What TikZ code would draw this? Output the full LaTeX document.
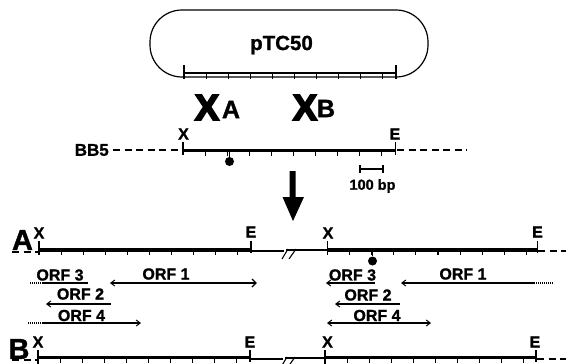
\documentclass[tikz,border=0pt]{standalone}
\usepackage{fontspec}
\setmainfont[BoldFeatures={FakeBold=1.2}]{Liberation Sans}
\newfontfamily\heavyfont[FakeBold=5]{Liberation Sans Bold}
\usetikzlibrary{arrows.meta}
\tikzset{
  thickline/.style={line width=3.5pt},
  plasmidline/.style={line width=2.4pt},
  thinline/.style={line width=1.1pt},
  dashline/.style={line width=1.3pt,dash pattern=on 7pt off 4.5pt},
  tick/.style={line width=1.1pt},
  orf/.style={line width=1.3pt},
  orfdot/.style={line width=1.3pt,dash pattern=on 1pt off 1pt},
  lab/.style={inner sep=0pt,font=\fontsize{16}{16}\selectfont\bfseries},
  sizelab/.style={inner sep=0pt,font=\fontsize{14.5}{14.5}\selectfont\bfseries},
  orflab/.style={inner sep=0pt,font=\fontsize{16}{16}\selectfont\bfseries},
  bigx/.style={inner sep=0pt,font=\fontsize{36}{36}\selectfont\heavyfont},
  biglab/.style={inner sep=0pt,font=\fontsize{25}{25}\selectfont\bfseries},
  rowlab/.style={inner sep=0pt,font=\fontsize{29}{29}\selectfont\bfseries},
  ball/.style={circle,fill=black,minimum size=9pt,inner sep=0pt},
  ltip/.style={{Straight Barb[length=4pt,width=6pt,line width=1pt]}-},
  rtip/.style={-{Straight Barb[length=4pt,width=6pt,line width=1pt]}},
  bothtip/.style={{Straight Barb[length=4pt,width=6pt,line width=1pt]}-{Straight Barb[length=4pt,width=6pt,line width=1pt]}},
}
\newcommand{\fragment}[5][thickline]{% style, x0, x1, y, tick length
  \draw[#1] (#2,#4) -- (#3,#4);
  \foreach \i in {1,...,9}{
    \draw[tick] ({#2+\i*22.1},#4) -- ++(0,#5);
  }
}
\begin{document}
\begin{tikzpicture}[x=1pt,y=-1pt]
\useasboundingbox (0,0) rectangle (566,364);
% plasmid
\node[draw,line width=1.2pt,rounded corners=32pt,minimum width=278pt,minimum height=67pt,inner sep=0pt] (plasmid) at (289,43.5) {};
\node[inner sep=0pt,font=\fontsize{20.5}{20.5}\selectfont\bfseries] (ptc) at (281.5,45) {pTC50};
\fragment[plasmidline]{184}{396}{73}{6}
\draw[tick] (184,65) -- (184,79);
\draw[tick] (396,65) -- (396,79);
\draw[tick] (382.7,73) -- ++(0,6);
% crossovers
\node[bigx] (xa) at (207,107.5) {X};
\node[biglab] (a1) at (231,109.5) {A};
\node[bigx] (xb) at (305,107.5) {X};
\node[biglab] (b1) at (326,108.5) {B};
% BB5
\node[inner sep=0pt,anchor=east,font=\fontsize{17}{17}\selectfont\bfseries] (bb5) at (109,150) {BB5};
\coordinate (bbl) at (113,150);
\coordinate (bbx) at (183,150);
\coordinate (bbe) at (397,150);
\coordinate (bbr) at (467,150);
\draw[dashline] (bbl) -- (bbx);
\draw[dashline] (bbe) -- (bbr);
\fragment{183}{396}{150.5}{5}
\draw[tick] (183,142) -- (183,155);
\draw[tick] (395.5,142) -- (395.5,155);
\node[lab] (x0) at (183.5,134) {X};
\node[lab] (e0) at (395,134) {E};
\node[ball] (ball1) at (229.5,161.5) {};
\draw[tick] (229.5,150) -- (ball1);
% scale
\coordinate (s1) at (360,169);
\coordinate (s2) at (383,169);
\draw[tick] (s1) -- (s2);
\draw[tick] (360,165) -- (360,173);
\draw[tick] (383,165) -- (383,173);
\node[sizelab] (bp) at (372.5,186) {100 bp};
% big arrow
\fill[black] (289.5,171) -- (295.5,171) -- (295.5,197) -- (304,197) -- (293,221) -- (282.5,197) -- (289.5,197) -- cycle;
% row A
\node[rowlab] (A) at (22.5,240) {A};
\node[lab] (xal) at (39,233) {X};
\node[lab] (eal) at (251,232) {E};
\node[lab] (xar) at (328,233) {X};
\node[lab] (ear) at (537.5,232) {E};
\draw[dashline] (12,252) -- (39,252);
\fragment{39}{251}{250}{5}
\draw[tick] (39,241) -- (39,255);
\draw[tick] (251,241) -- (251,253);
\draw[thinline] (251,251) -- (284,251);
\draw[thinline] (282,259) -- (288,249);
\draw[thinline] (289,259) -- (296,249);
\draw[thinline] (286,250) -- (327,250);
\fragment{327.5}{537.5}{250}{5}
\draw[tick] (327.5,241) -- (327.5,255);
\draw[tick] (537.5,241) -- (537.5,253);
\draw[dashline] (538,251) -- (566,251);
\node[ball] (ball2) at (372.5,261) {};
\draw[tick] (372.5,250) -- (ball2);
% ORFs left
\node[orflab] at (60,275) {ORF 3};
\node[orflab] at (166,274) {ORF 1};
\node[orflab] at (80.5,294) {ORF 2};
\node[orflab] at (81.5,315.5) {ORF 4};
\draw[orfdot] (30,283) -- (43,283);
\draw[orf] (42,283) -- (88,283);
\draw[orf,ltip] (110,283) -- (256,283);
\draw[tick] (252,279) -- (256,283) -- (252,287);
\draw[orf,ltip] (46,304) -- (111,304);
\draw[orfdot] (28,323) -- (42,323);
\draw[orf,rtip] (42,323) -- (141,323);
% ORFs right
\node[orflab] at (352.5,275) {ORF 3};
\node[orflab] at (463,274) {ORF 1};
\node[orflab] at (368,295) {ORF 2};
\node[orflab] at (377,315.5) {ORF 4};
\draw[orf,ltip] (326,283) -- (375,283);
\draw[orf,ltip] (401,283) -- (534,283);
\draw[orfdot] (534,283) -- (553,283);
\draw[orf,ltip] (335,304) -- (400,304);
\draw[orf,bothtip] (327,323) -- (431,323);
% row B
\node[rowlab] (B) at (19,349) {B};
\node[lab] (xbl) at (38,342) {X};
\node[lab] (ebl) at (250,342) {E};
\node[lab] (xbr) at (327.5,342) {X};
\node[lab] (ebr) at (535,342) {E};
\draw[dashline] (12,360) -- (38,360);
\fragment{38}{250}{357.5}{5}
\draw[tick] (38,350) -- (38,364);
\draw[tick] (250,350) -- (250,362);
\draw[thinline] (250,359) -- (283,359);
\draw[thinline] (281,367) -- (287,357);
\draw[thinline] (288,367) -- (295,357);
\draw[thinline] (285,358) -- (325,358);
\fragment{325}{536}{357.5}{5}
\draw[tick] (325,350) -- (325,364);
\draw[tick] (536,350) -- (536,362);
\draw[dashline] (537,359) -- (566,359);
\end{tikzpicture}
\end{document}
